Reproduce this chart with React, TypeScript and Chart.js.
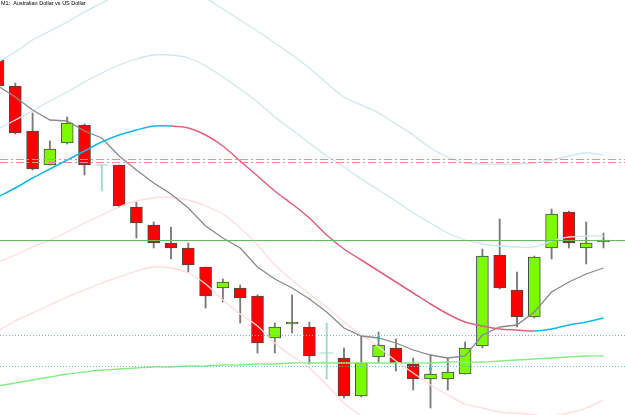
import React, { useEffect, useRef } from 'react';
import { Chart, registerables } from 'chart.js';

Chart.register(...registerables);

const TITLE = 'M1:  Australian Dollar vs US Dollar';

// Candles (index = bar number)
const OPEN = [0.7640, 0.7614, 0.7569, 0.7535, 0.7557, 0.7575, 0.7535, 0.7535, 0.7493, 0.7475, 0.7457, 0.7452, 0.7433, 0.7412, 0.7412, 0.7404, 0.7362, 0.7376, 0.7373, 0.7347, 0.7342, 0.7304, 0.7343, 0.7352, 0.7336, 0.7321, 0.7321, 0.7326, 0.7354, 0.7445, 0.7410, 0.7383, 0.7452, 0.7488, 0.7452, 0.7458];
const HIGH = [0.7643, 0.7617, 0.7587, 0.7559, 0.7583, 0.7576, 0.7535, 0.7535, 0.7498, 0.7478, 0.7473, 0.7457, 0.7433, 0.7421, 0.7415, 0.7405, 0.7377, 0.7405, 0.7378, 0.7377, 0.7352, 0.7364, 0.7368, 0.7361, 0.7342, 0.7345, 0.7342, 0.7358, 0.7451, 0.7481, 0.7428, 0.7444, 0.7491, 0.7489, 0.7478, 0.7467];
const LOW = [0.7612, 0.7566, 0.7530, 0.7535, 0.7556, 0.7525, 0.7509, 0.7493, 0.7462, 0.7452, 0.7441, 0.7428, 0.7392, 0.7398, 0.7377, 0.7347, 0.7347, 0.7367, 0.7336, 0.7321, 0.7302, 0.7303, 0.7337, 0.7329, 0.7310, 0.7292, 0.7310, 0.7326, 0.7352, 0.7411, 0.7373, 0.7382, 0.7441, 0.7452, 0.7436, 0.7452];
const CLOSE = [0.7614, 0.7567, 0.7531, 0.7551, 0.7577, 0.7535, 0.7535, 0.7494, 0.7477, 0.7457, 0.7452, 0.7435, 0.7404, 0.7418, 0.7402, 0.7357, 0.7373, 0.7378, 0.7344, 0.7347, 0.7304, 0.7337, 0.7355, 0.7337, 0.7321, 0.7326, 0.7328, 0.7352, 0.7444, 0.7412, 0.7383, 0.7443, 0.7486, 0.7457, 0.7457, 0.7460];

// Indicators
const SMA_FAST = [0.7614, 0.7603, 0.7590, 0.7580, 0.7579, 0.7569, 0.7562, 0.7544, 0.7530, 0.7517, 0.7506, 0.7492, 0.7474, 0.7462, 0.7452, 0.7433, 0.7421, 0.7412, 0.7401, 0.7388, 0.7372, 0.7364, 0.7362, 0.7357, 0.7350, 0.7345, 0.7342, 0.7344, 0.7365, 0.7373, 0.7375, 0.7388, 0.7408, 0.7418, 0.7426, 0.7432];
const MA_MID = [0.7503, 0.7512, 0.7522, 0.7531, 0.7540, 0.7549, 0.7558, 0.7565, 0.7570, 0.7574, 0.7574, 0.7572, 0.7565, 0.7554, 0.7539, 0.7524, 0.7509, 0.7496, 0.7482, 0.7465, 0.7451, 0.7440, 0.7429, 0.7418, 0.7407, 0.7396, 0.7386, 0.7378, 0.7374, 0.7371, 0.7370, 0.7369, 0.7371, 0.7375, 0.7378, 0.7382];
const BAND_UPPER_OUTER = [0.7638, 0.7648, 0.7660, 0.7669, 0.7678, 0.7688, 0.7697, 0.7706, 0.7712, 0.7716, 0.7715, 0.7710, 0.7702, 0.7691, 0.7680, 0.7669, 0.7657, 0.7645, 0.7632, 0.7617, 0.7603, 0.7595, 0.7587, 0.7576, 0.7565, 0.7552, 0.7543, 0.7537, 0.7536, 0.7536, 0.7536, 0.7537, 0.7540, 0.7544, 0.7547, 0.7545];
const BAND_UPPER_INNER = [0.7571, 0.7580, 0.7589, 0.7599, 0.7608, 0.7618, 0.7627, 0.7635, 0.7641, 0.7645, 0.7645, 0.7642, 0.7634, 0.7623, 0.7611, 0.7598, 0.7583, 0.7570, 0.7557, 0.7544, 0.7533, 0.7521, 0.7510, 0.7499, 0.7487, 0.7477, 0.7467, 0.7460, 0.7456, 0.7454, 0.7453, 0.7453, 0.7459, 0.7463, 0.7464, 0.7464];
const BAND_LOWER_INNER = [0.7438, 0.7445, 0.7453, 0.7460, 0.7468, 0.7477, 0.7485, 0.7493, 0.7499, 0.7502, 0.7503, 0.7500, 0.7494, 0.7486, 0.7472, 0.7455, 0.7435, 0.7420, 0.7406, 0.7393, 0.7378, 0.7365, 0.7353, 0.7339, 0.7327, 0.7315, 0.7305, 0.7296, 0.7292, 0.7288, 0.7287, 0.7285, 0.7284, 0.7287, 0.7292, 0.7300];
const BAND_LOWER_OUTER = [0.7369, 0.7379, 0.7387, 0.7395, 0.7403, 0.7410, 0.7417, 0.7423, 0.7429, 0.7433, 0.7432, 0.7427, 0.7416, 0.7400, 0.7386, 0.7374, 0.7357, 0.7344, 0.7332, 0.7315, 0.7297, 0.7284, 0.7272, 0.7260, 0.7248, 0.7238, 0.7228, 0.7218, 0.7212, 0.7206, 0.7204, 0.7201, 0.7202, 0.7206, 0.7209, 0.7219];
const MA_SLOW = [0.7314, 0.7317, 0.7320, 0.7323, 0.7326, 0.7328, 0.7330, 0.7331, 0.7332, 0.7333, 0.7333, 0.7334, 0.7334, 0.7335, 0.7335, 0.7336, 0.7336, 0.7337, 0.7337, 0.7337, 0.7337, 0.7337, 0.7337, 0.7337, 0.7337, 0.7337, 0.7338, 0.7338, 0.7338, 0.7339, 0.7340, 0.7341, 0.7342, 0.7343, 0.7344, 0.7344];

// Marker dots
const MARK_BARS = [22, 25];
const MARK_PRICES = [0.7362, 0.7331];

// Horizontal levels
const LEVEL_GREEN = [0.7460];
const LEVEL_RED = [0.7541, 0.7538];
const LEVEL_TEAL = [0.7365, 0.7334];

// Visible ranges
const X_MIN = 0.1156;
const X_MAX = 36.243;
const Y_MIN = 0.7285;
const Y_MAX = 0.7700;

const COL_UP = '#7CFC00';
const COL_DOWN = '#FF0000';
const COL_DOJI = '#9fd9c8';
const COL_WICK = '#7a7a7a';
const COL_BORDER = '#4a4a4a';

const overlayPlugin = {
  id: 'overlay',
  afterDatasetsDraw(chart: any) {
    const { ctx, chartArea, scales } = chart;
    const y = scales.y;
    const drawLevel = (v: number, color: string, dash: number[], w: number) => {
      const py = Math.round(y.getPixelForValue(v)) + 0.5;
      ctx.save();
      ctx.strokeStyle = color;
      ctx.lineWidth = w;
      ctx.setLineDash(dash);
      ctx.beginPath();
      ctx.moveTo(chartArea.left, py);
      ctx.lineTo(chartArea.right, py);
      ctx.stroke();
      ctx.restore();
    };
    LEVEL_GREEN.forEach((v) => drawLevel(v, '#66bb5c', [], 1));
    LEVEL_RED.forEach((v) => drawLevel(v, '#f08a8a', [8, 3, 2, 3], 1));
    LEVEL_TEAL.forEach((v) => drawLevel(v, '#6fbcc6', [1, 2], 1));

    ctx.save();
    ctx.fillStyle = '#000';
    ctx.font = '5.5px "Liberation Sans", Arial, sans-serif';
    ctx.textBaseline = 'top';
    ctx.fillText(TITLE, 1, 1);
    ctx.restore();
  },
};

export default function App() {
  const ref = useRef<HTMLCanvasElement>(null);

  useEffect(() => {
    document.body.style.margin = '0';
    const idx = OPEN.map((_, i) => i);
    const isDoji = (i: number) => OPEN[i] === CLOSE[i];
    const bodyColor = (i: number) =>
      isDoji(i) ? 'rgba(0,0,0,0)' : CLOSE[i] > OPEN[i] ? COL_UP : COL_DOWN;
    const line = (vals: number[]) => vals.map((v, i) => ({ x: i, y: v }));

    const chart = new Chart(ref.current as HTMLCanvasElement, {
      type: 'bar',
      data: {
        datasets: [
          {
            type: 'line',
            data: line(MA_MID),
            borderWidth: 1.5,
            pointRadius: 0,
            tension: 0.3,
            order: 1,
            segment: {
              borderColor: (c: any) => (c.p1.parsed.y >= c.p0.parsed.y ? '#12b8f0' : '#e0607e'),
            },
          } as any,
          {
            type: 'line',
            data: line(SMA_FAST),
            borderColor: '#8a8a8a',
            borderWidth: 1.3,
            pointRadius: 0,
            tension: 0,
            order: 1,
          },
          { type: 'line', data: line(BAND_UPPER_OUTER), borderColor: '#cbe8ef', borderWidth: 1.3, pointRadius: 0, tension: 0.3, order: 2 },
          { type: 'line', data: line(BAND_UPPER_INNER), borderColor: '#cbe8ef', borderWidth: 1.3, pointRadius: 0, tension: 0.3, order: 2 },
          { type: 'line', data: line(BAND_LOWER_INNER), borderColor: '#ffdcdc', borderWidth: 1.3, pointRadius: 0, tension: 0.3, order: 2 },
          { type: 'line', data: line(BAND_LOWER_OUTER), borderColor: '#ffdcdc', borderWidth: 1.3, pointRadius: 0, tension: 0.3, order: 2 },
          { type: 'line', data: line(MA_SLOW), borderColor: '#84ee84', borderWidth: 1.3, pointRadius: 0, tension: 0.3, order: 2 },
          {
            type: 'line',
            data: MARK_BARS.map((b, k) => ({ x: b, y: MARK_PRICES[k] })),
            showLine: false,
            pointStyle: 'rect',
            pointRadius: 1.5,
            backgroundColor: '#3fb2c4',
            borderColor: '#3fb2c4',
            order: 0,
          },
          {
            type: 'line',
            data: idx.filter(isDoji).map((i) => ({ x: i, y: OPEN[i] })),
            showLine: false,
            pointStyle: 'line',
            pointRadius: 6.5,
            borderColor: COL_DOJI,
            borderWidth: 1,
            order: 3,
          },
          {
            type: 'bar',
            data: idx.map((i) => ({ x: i, y: [LOW[i], HIGH[i]] })),
            backgroundColor: idx.map((i) => (isDoji(i) ? COL_DOJI : COL_WICK)),
            borderWidth: 0,
            barThickness: 1.2,
            grouped: false,
            order: 5,
          } as any,
          {
            type: 'bar',
            data: idx.map((i) => ({ x: i, y: [OPEN[i], CLOSE[i]] })),
            backgroundColor: idx.map(bodyColor),
            borderColor: idx.map((i) => (isDoji(i) ? 'rgba(0,0,0,0)' : COL_BORDER)),
            borderWidth: 1,
            borderSkipped: false,
            barThickness: 12,
            grouped: false,
            order: 4,
          } as any,
        ],
      },
      options: {
        animation: false,
        responsive: false,
        devicePixelRatio: 1,
        layout: { padding: 0, autoPadding: false },
        plugins: { legend: { display: false }, tooltip: { enabled: false }, title: { display: false } },
        scales: {
          x: { type: 'linear', min: X_MIN, max: X_MAX, display: false, offset: false },
          y: { type: 'linear', min: Y_MIN, max: Y_MAX, display: false },
        },
      } as any,
      plugins: [overlayPlugin],
    });
    return () => chart.destroy();
  }, []);

  return (
    <div style={{ width: 625, height: 415, background: '#fff' }}>
      <canvas ref={ref} width={625} height={415} style={{ display: 'block' }} />
    </div>
  );
}
